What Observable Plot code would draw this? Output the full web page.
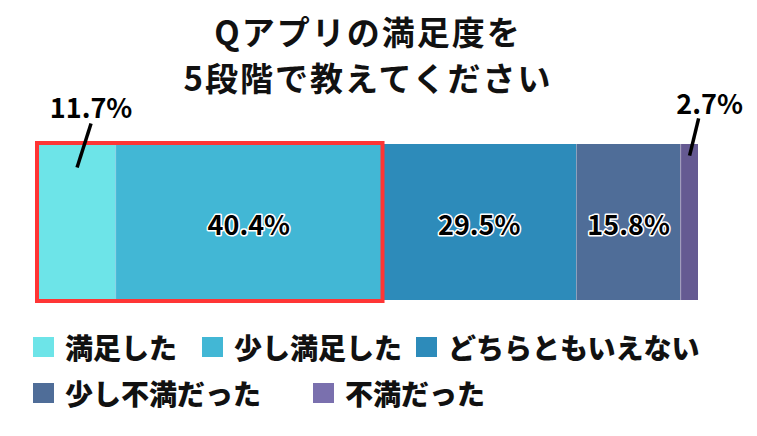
<!DOCTYPE html>
<html>
<head>
<meta charset="utf-8">
<script src="https://cdn.jsdelivr.net/npm/d3@7"></script>
<script src="https://cdn.jsdelivr.net/npm/@observablehq/plot@0.6"></script>
<style>
  html, body { margin: 0; padding: 0; background: #ffffff; }
  body { width: 757px; height: 436px; overflow: hidden; font-family: "Noto Sans CJK JP", "Noto Sans", sans-serif; }
  #title { width: 736px; height: 88px; box-sizing: border-box; padding-top: 8px; text-align: center;
           font-size: 33px; font-weight: 700; line-height: 46px; letter-spacing: 2px; color: #111111; white-space: nowrap; }
  #chart svg { display: block; overflow: visible; }
  #legend { position: relative; width: 757px; height: 111px; }
  .item { position: absolute; height: 40px; display: flex; align-items: center; white-space: nowrap; }
  .sw { width: 21px; height: 20px; margin-right: 11px; flex: none; }
  .lb { font-size: 28px; font-weight: 900; line-height: 1; color: #111111; }
</style>
</head>
<body>
<div id="title"></div>
<div id="chart"></div>
<div id="legend"></div>
<script>
// ---- data ----
const title = ["Qアプリの満足度を", "5段階で教えてください"];
const categories = ["満足した", "少し満足した", "どちらともいえない", "少し不満だった", "不満だった"];
const values = [11.7, 40.4, 29.5, 15.8, 2.7];
const barColors = ["#6de4e8", "#42b7d5", "#2d8bba", "#4f6d98", "#655a92"];
const legendColors = ["#6de4e8", "#42b7d5", "#2d8bba", "#4f6d98", "#7a70ae"];
const highlighted = ["満足した", "少し満足した"];

// ---- derived table ----
const ends = d3.cumsum(values);
const rows = categories.map((c, i) => ({
  category: c,
  value: values[i],
  x1: ends[i] - values[i],
  x2: ends[i],
  mid: ends[i] - values[i] / 2
}));
const total = ends[ends.length - 1];
const fmt = v => v.toFixed(1) + "%";
const hiEnd = d3.sum(rows.filter(r => highlighted.includes(r.category)), r => r.value);

// ---- layout / style (not data) ----
const font = "Noto Sans CJK JP";
const insideMin = 12; // values smaller than this get an outside callout
const calloutStyle = {
  "満足した": {lean: 2.12, from: 0.853, to: 1.135, dx: 14, dy: -35.6},
  "不満だった": {lean: 1.37, from: 0.929, to: 1.167, dx: 20, dy: -39.6}
};

document.getElementById("title").innerHTML = title.map(t => `<div>${t}</div>`).join("");

const inside = rows.filter(r => r.value >= insideMin);
const outside = rows.filter(r => r.value < insideMin);

const marks = [
  Plot.rectX(rows, {x1: "x1", x2: "x2", y1: 0, y2: 1, fill: "category"}),
  Plot.ruleX(rows.slice(0, -1), {x: "x2", y1: 0, y2: 1, stroke: "#ffffff", strokeOpacity: 0.35, strokeWidth: 1}),
  Plot.rectX([{x1: 0, x2: hiEnd}], {x1: "x1", x2: "x2", y1: 0, y2: 1, fill: "none", stroke: "#ff3535", strokeWidth: 4,
    insetLeft: -1, insetRight: -1, insetTop: -1, insetBottom: -1}),
  Plot.text(inside, {x: "mid", y: 0.5, text: d => fmt(d.value), fill: "#000000", stroke: "#ffffff", strokeWidth: 3,
    paintOrder: "stroke", fontSize: 27, fontWeight: 700, fontFamily: font, dy: 4})
];
for (const r of outside) {
  const s = calloutStyle[r.category];
  marks.push(Plot.link([r], {x1: "mid", x2: d => d.mid + s.lean, y1: s.from, y2: s.to, stroke: "#000000", strokeWidth: 3.5}));
  marks.push(Plot.text([r], {x: "mid", y: 1, text: d => fmt(d.value), fill: "#000000", fontSize: 27, fontWeight: 700,
    fontFamily: font, dx: s.dx, dy: s.dy}));
}

const chart = Plot.plot({
  width: 757,
  height: 237,
  marginLeft: 38,
  marginRight: 59,
  marginTop: 56,
  marginBottom: 25,
  x: {domain: [0, total], axis: null},
  y: {domain: [0, 1], axis: null},
  color: {domain: categories, range: barColors},
  style: {fontFamily: font, background: "transparent", overflow: "visible"},
  marks
});
document.getElementById("chart").appendChild(chart);

// ---- legend ----
const legendPos = [[33, 2], [202, 2], [416, 2], [33, 48], [313, 48]];
const legend = document.getElementById("legend");
categories.forEach((c, i) => {
  const it = document.createElement("div");
  it.className = "item";
  it.style.left = legendPos[i][0] + "px";
  it.style.top = legendPos[i][1] + "px";
  it.innerHTML = `<span class="sw" style="background:${legendColors[i]}"></span><span class="lb">${c}</span>`;
  legend.appendChild(it);
});
</script>
</body>
</html>
